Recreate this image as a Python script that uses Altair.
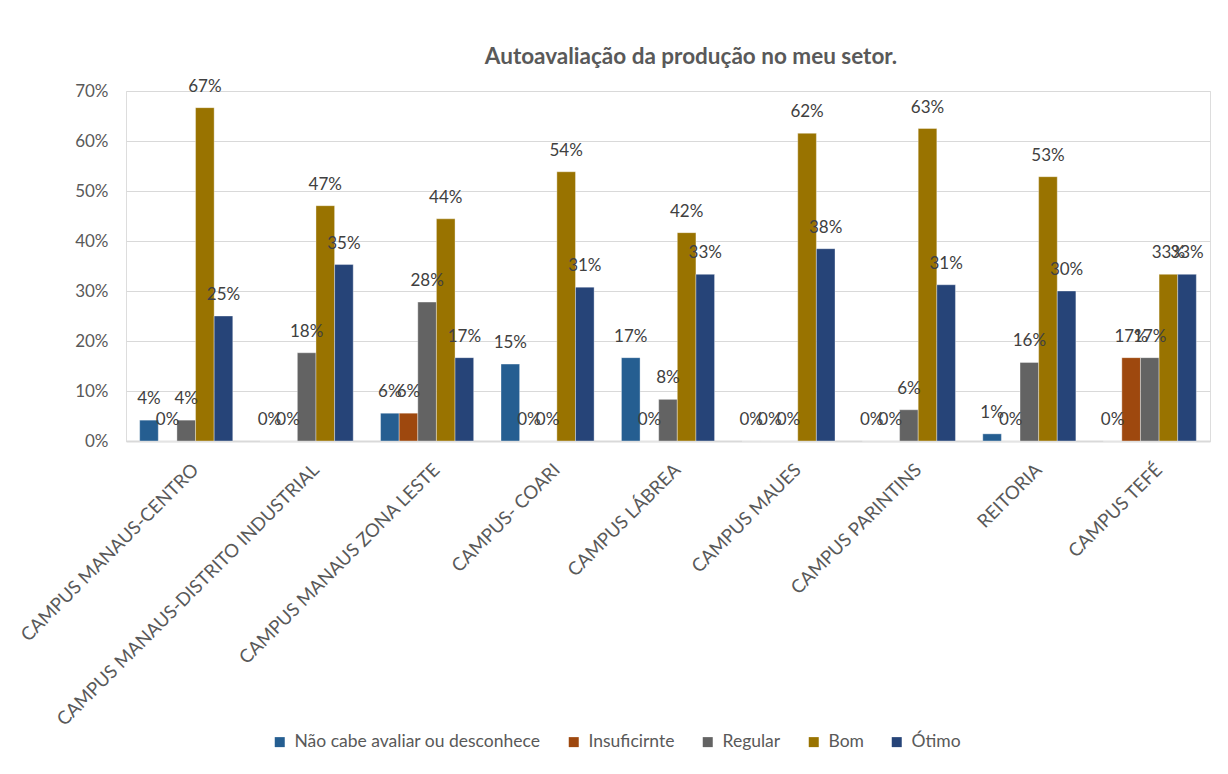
import altair as alt
import pandas as pd

categories = [
    "CAMPUS MANAUS-CENTRO",
    "CAMPUS MANAUS-DISTRITO INDUSTRIAL",
    "CAMPUS MANAUS ZONA LESTE",
    "CAMPUS- COARI",
    "CAMPUS LÁBREA",
    "CAMPUS MAUES",
    "CAMPUS PARINTINS",
    "REITORIA",
    "CAMPUS TEFÉ",
]
series = ["Não cabe avaliar ou desconhece", "Insuficirnte", "Regular", "Bom", "Ótimo"]
colors = ["#255E91", "#9E480E", "#636363", "#997300", "#264478"]

nao_cabe = [0.0417, 0.0, 0.0556, 0.1538, 0.1667, 0.0, 0.0, 0.0143, 0.0]
insuficiente = [0.0, 0.0, 0.0556, 0.0, 0.0, 0.0, 0.0, 0.0, 0.1667]
regular = [0.0417, 0.1765, 0.2778, 0.0, 0.0833, 0.0, 0.0625, 0.1571, 0.1667]
bom = [0.6667, 0.4706, 0.4444, 0.5385, 0.4167, 0.6154, 0.625, 0.5286, 0.3333]
otimo = [0.25, 0.3529, 0.1667, 0.3077, 0.3333, 0.3846, 0.3125, 0.30, 0.3333]

y_ticks = [0, 0.1, 0.2, 0.3, 0.4, 0.5, 0.6, 0.7]

rows = []
for s, vals in zip(series, [nao_cabe, insuficiente, regular, bom, otimo]):
    for c, v in zip(categories, vals):
        rows.append({"campus": c, "serie": s, "valor": v})
df = pd.DataFrame(rows)

FONT = "Lato"

x_enc = alt.X(
    "campus:N",
    sort=categories,
    title=None,
    scale=alt.Scale(paddingInner=0.227, paddingOuter=0.1135),
    axis=alt.Axis(
        labelAngle=-45,
        labelAlign="right",
        labelBaseline="top",
        labelPadding=19,
        labelOffset=3,
        ticks=False,
        tickSize=0,
        domainColor="#D9D9D9",
        domainWidth=2,
        labelFont=FONT,
        labelFontSize=18.5,
        labelColor="#595959",
        labelLimit=0,
        grid=False,
    ),
)
xoff = alt.XOffset("serie:N", sort=series, scale=alt.Scale(domain=series, paddingInner=0, paddingOuter=0))
y_enc = alt.Y(
    "valor:Q",
    title=None,
    scale=alt.Scale(domain=[0, 0.7], nice=False),
    axis=alt.Axis(
        values=y_ticks,
        format=".0%",
        domain=False,
        ticks=False,
        labelPadding=18,
        labelFont=FONT,
        labelFontSize=17,
        labelColor="#595959",
        gridColor="#D9D9D9",
        gridWidth=1,
    ),
)
color_enc = alt.Color(
    "serie:N",
    sort=series,
    scale=alt.Scale(domain=series, range=colors),
    legend=alt.Legend(
        title=None,
        orient="none",
        direction="horizontal",
        legendX=145,
        legendY=642,
        symbolType="square",
        symbolSize=100,
        symbolStrokeWidth=0,
        labelFont=FONT,
        labelFontSize=17.5,
        labelColor="#595959",
        labelOffset=6,
        columnPadding=24,
        labelLimit=0,
    ),
)

bars = alt.Chart(df).mark_bar(stroke="white", strokeWidth=0.6, strokeOpacity=0.6).encode(
    x=x_enc, xOffset=xoff, y=y_enc, color=color_enc
)

labels = alt.Chart(df).mark_text(
    baseline="alphabetic", align="center", dy=-16, font=FONT, fontSize=17, color="#404040"
).encode(
    x=alt.X("campus:N", sort=categories),
    xOffset=alt.XOffset("serie:N", sort=series),
    y=alt.Y("valor:Q"),
    text=alt.Text("valor:Q", format=".0%"),
)

chart = (
    alt.layer(bars, labels)
    .properties(
        width=1084,
        height=350,
        autosize=alt.AutoSizeParams(type="none"),
        padding={"left": 118, "top": 83, "right": 10, "bottom": 320},
        title=alt.Title(
            "Autoavaliação da produção no meu setor.",
            font=FONT,
            fontSize=22.5,
            fontWeight="bold",
            color="#595959",
            anchor="middle",
            dx=23,
            offset=9,
        ),
    )
    .configure_view(stroke=None)
    .configure(background="white")
)

chart.save("out.html", embed_options={"renderer": "svg", "actions": False})
